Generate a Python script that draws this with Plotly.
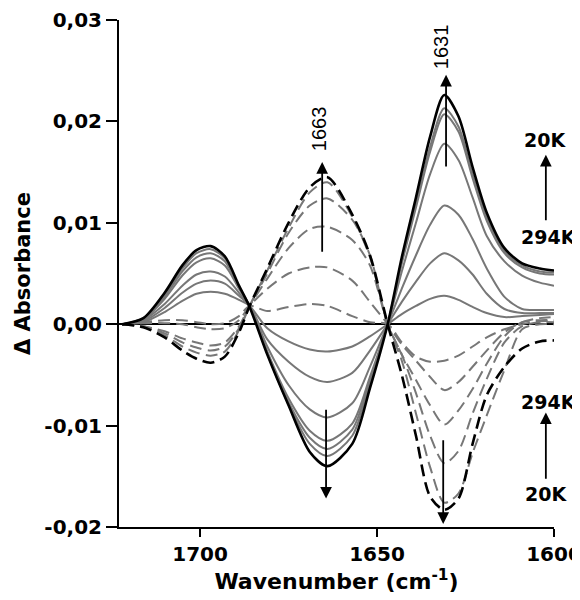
import plotly.graph_objects as go

# Wavenumber grid (cm-1)
wavenumber = [1722, 1716, 1710, 1705, 1701, 1697, 1693, 1689, 1686, 1681, 1675, 1669, 1664,
              1657, 1652, 1647, 1643, 1639, 1635, 1631, 1627, 1623, 1619, 1614, 1609, 1604, 1600]

# Solid curves (S1 = 20K darkest ... S7 = 294K lightest)
S1 = [0, 0.0006, 0.0031, 0.0058, 0.0073, 0.0077, 0.0067, 0.0038, 0.0017, -0.0030, -0.0080, -0.0126, -0.0140,
      -0.0118, -0.0063, 0, 0.0066, 0.0125, 0.0185, 0.0226, 0.0205, 0.0155, 0.0110, 0.0075, 0.0060, 0.0055, 0.0053]
S2 = [0, 0.0006, 0.0029, 0.0055, 0.0070, 0.0074, 0.0065, 0.0037, 0.0018, -0.0029, -0.0079, -0.0118, -0.0130,
      -0.0110, -0.0058, 0, 0.0062, 0.0118, 0.0175, 0.0213, 0.0195, 0.0148, 0.0105, 0.0072, 0.0058, 0.0052, 0.0051]
S3 = [0, 0.0005, 0.0027, 0.0052, 0.0066, 0.0070, 0.0062, 0.0036, 0.0018, -0.0028, -0.0077, -0.0112, -0.0123,
      -0.0104, -0.0055, 0, 0.0060, 0.0115, 0.0170, 0.0207, 0.0190, 0.0144, 0.0102, 0.0070, 0.0056, 0.0050, 0.0049]
S4 = [0, 0.0005, 0.0025, 0.0048, 0.0061, 0.0065, 0.0058, 0.0035, 0.0018, -0.0027, -0.0073, -0.0105, -0.0115,
      -0.0098, -0.0052, 0, 0.0052, 0.0100, 0.0148, 0.0178, 0.0162, 0.0125, 0.0087, 0.0062, 0.0048, 0.0041, 0.0038]
S5 = [0, 0.0004, 0.0020, 0.0038, 0.0049, 0.0052, 0.0047, 0.0031, 0.0018, -0.0022, -0.0060, -0.0084, -0.0092,
      -0.0078, -0.0042, 0, 0.0035, 0.0068, 0.0098, 0.0117, 0.0108, 0.0084, 0.0055, 0.0027, 0.0015, 0.0014, 0.0014]
S6 = [0, 0.0003, 0.0016, 0.0031, 0.0040, 0.0043, 0.0040, 0.0028, 0.0018, -0.0015, -0.0037, -0.0052, -0.0057,
      -0.0048, -0.0026, 0, 0.0022, 0.0042, 0.0060, 0.0070, 0.0063, 0.0049, 0.0030, 0.0015, 0.0011, 0.0011, 0.0011]
S7 = [0, 0.0002, 0.0012, 0.0023, 0.0030, 0.0032, 0.0030, 0.0024, 0.0018, -0.0004, -0.0017, -0.0025, -0.0027,
      -0.0022, -0.0012, 0, 0.0010, 0.0018, 0.0025, 0.0028, 0.0024, 0.0017, 0.0011, 0.0007, 0.0008, 0.0009, 0.0010]

# Dashed curves (D1 = 20K darkest ... D6 = 294K lightest)
D1 = [0, -0.0003, -0.0013, -0.0026, -0.0034, -0.0038, -0.0032, -0.0008, 0.0018, 0.0055, 0.0100, 0.0135, 0.0145,
      0.0108, 0.0068, 0, -0.0050, -0.0110, -0.0170, -0.0183, -0.0172, -0.0118, -0.0070, -0.0042, -0.0024, -0.0017, -0.0016]
D2 = [0, -0.0003, -0.0011, -0.0022, -0.0028, -0.0031, -0.0027, -0.0006, 0.0018, 0.0053, 0.0095, 0.0130, 0.0140,
      0.0106, 0.0066, 0, -0.0036, -0.0088, -0.0141, -0.0176, -0.0167, -0.0127, -0.0090, -0.0045, -0.0005, 0.0000, 0.0000]
D3 = [0, -0.0002, -0.0009, -0.0018, -0.0023, -0.0026, -0.0022, -0.0004, 0.0018, 0.0050, 0.0090, 0.0117, 0.0124,
      0.0103, 0.0068, 0, -0.0030, -0.0068, -0.0110, -0.0137, -0.0125, -0.0088, -0.0054, -0.0018, -0.0002, 0.0002, 0.0002]
D4 = [0, -0.0002, -0.0007, -0.0014, -0.0018, -0.0021, -0.0018, -0.0002, 0.0018, 0.0045, 0.0075, 0.0094, 0.0096,
      0.0083, 0.0058, 0, -0.0030, -0.0055, -0.0080, -0.0099, -0.0085, -0.0064, -0.0039, -0.0012, 0.0002, 0.0004, 0.0004]
D5 = [0, 0.0001, 0.0001, 0.0000, -0.0003, -0.0005, -0.0004, 0.0004, 0.0018, 0.0035, 0.0050, 0.0056, 0.0056,
      0.0043, 0.0022, 0, -0.0020, -0.0036, -0.0052, -0.0065, -0.0057, -0.0042, -0.0026, -0.0008, 0.0002, 0.0006, 0.0007]
D6 = [0, 0.0002, 0.0004, 0.0004, 0.0002, 0.0000, 0.0001, 0.0008, 0.0018, 0.0013, 0.0017, 0.0020, 0.0018,
      0.0008, 0.0002, 0, -0.0018, -0.0032, -0.0037, -0.0036, -0.0031, -0.0022, -0.0013, -0.0005, 0.0000, 0.0003, 0.0003]

y_tick_vals = [0.03, 0.02, 0.01, 0.0, -0.01, -0.02]
y_tick_text = ["0,03", "0,02", "0,01", "0,00", "-0,01", "-0,02"]
x_tick_vals = [1700, 1650, 1600]
x_tick_text = ["1700", "1650", "1600"]

GRAY = "#777777"
BLACK = "#000000"
DASH = "12px,6px"

fig = go.Figure()

gray_dashed = [D2, D3, D4, D5, D6]
gray_solid = [S2, S3, S4, S5, S6, S7]

for ys in gray_dashed:
    fig.add_trace(go.Scatter(x=wavenumber, y=ys, mode="lines",
                             line=dict(color=GRAY, width=2, dash=DASH, shape="spline", smoothing=0.8),
                             showlegend=False, hoverinfo="skip"))
for ys in gray_solid:
    fig.add_trace(go.Scatter(x=wavenumber, y=ys, mode="lines",
                             line=dict(color=GRAY, width=2, shape="spline", smoothing=0.8),
                             showlegend=False, hoverinfo="skip"))
fig.add_trace(go.Scatter(x=wavenumber, y=D1, mode="lines",
                         line=dict(color=BLACK, width=2.6, dash=DASH, shape="spline", smoothing=0.8),
                         showlegend=False, hoverinfo="skip"))
fig.add_trace(go.Scatter(x=wavenumber, y=S1, mode="lines",
                         line=dict(color=BLACK, width=2.6, shape="spline", smoothing=0.8),
                         showlegend=False, hoverinfo="skip"))

BOLD = dict(family="DejaVu Sans", size=20, color="black", weight="bold")

# page body has an 8px margin, so the figure is sized/offset to compensate
fig.update_layout(
    width=572, height=592,
    margin=dict(l=111, r=26, t=12, b=73, autoexpand=False),
    paper_bgcolor="white", plot_bgcolor="white",
    xaxis=dict(range=[1722.9, 1600], tickvals=x_tick_vals, ticktext=x_tick_text,
               ticks="outside", ticklen=8, tickwidth=2, tickcolor="black",
               ticklabeloverflow="allow",
               showline=True, linewidth=2, linecolor="black", showgrid=False, zeroline=False,
               tickfont=BOLD, automargin=False,
               title=dict(text="Wavenumber (cm<sup>-1</sup>)",
                          font=dict(family="DejaVu Sans", size=22, color="black", weight="bold"),
                          standoff=6)),
    yaxis=dict(range=[-0.02, 0.03], tickvals=y_tick_vals, ticktext=y_tick_text,
               ticks="outside", ticklen=11, tickwidth=2, tickcolor="black",
               showline=True, linewidth=2, linecolor="black", showgrid=False,
               zeroline=True, zerolinecolor="black", zerolinewidth=2,
               tickfont=BOLD, automargin=False,
               title=dict(text="Δ Absorbance",
                          font=dict(family="DejaVu Sans", size=21, color="black", weight="bold"),
                          standoff=8)),
)

NUM_FONT = dict(family="Liberation Sans, Arial", size=20, color="black")
LBL_FONT = dict(family="DejaVu Sans", size=19, color="black", weight="bold")

# peak arrows (tip, tail)
arrows = [
    (1665.5, 0.0160, 1665.5, 0.0070),
    (1630.5, 0.0246, 1630.5, 0.0154),
    (1664.4, -0.0172, 1664.4, -0.0083),
    (1631.3, -0.0197, 1631.3, -0.0113),
    (1602.3, 0.0167, 1602.3, 0.0101),
    (1602.3, -0.0087, 1602.3, -0.0154),
]
for x, y, ax, ay in arrows:
    fig.add_annotation(x=x, y=y, ax=ax, ay=ay, xref="x", yref="y", axref="x", ayref="y",
                       text="", showarrow=True, arrowhead=2, arrowsize=1.3, arrowwidth=1.8,
                       arrowcolor="black")

fig.add_annotation(x=1666.5, y=0.0193, text="1663", textangle=-90, showarrow=False, font=NUM_FONT)
fig.add_annotation(x=1631.7, y=0.0274, text="1631", textangle=-90, showarrow=False, font=NUM_FONT)

fig.add_annotation(x=1602.5, y=0.0182, text="20K", showarrow=False, font=LBL_FONT)
fig.add_annotation(x=1601.4, y=0.0086, text="294K", showarrow=False, font=LBL_FONT)
fig.add_annotation(x=1601.4, y=-0.0077, text="294K", showarrow=False, font=LBL_FONT)
fig.add_annotation(x=1602.3, y=-0.0167, text="20K", showarrow=False, font=LBL_FONT)

fig.write_html("out.html")
